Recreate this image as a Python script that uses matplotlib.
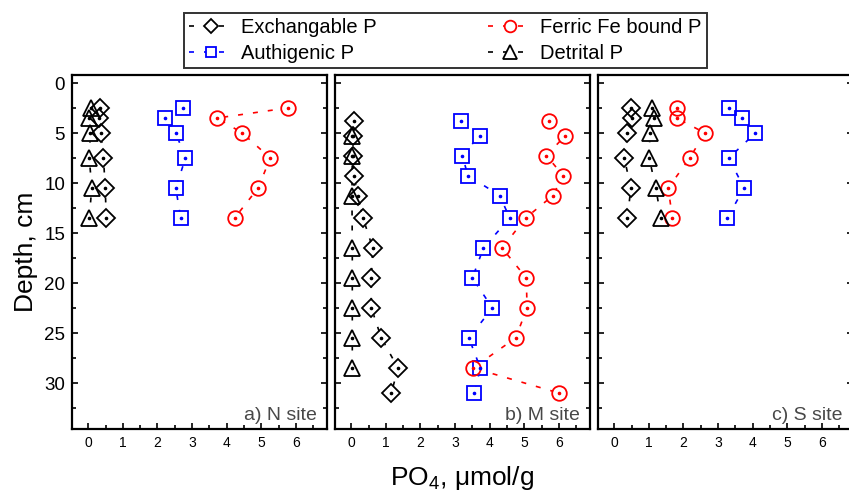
### PHOSPHORUS FRACTIONS VS DEPTH AT THREE SITES
### IMPORT LIBRARIES ###
import numpy as np
import matplotlib
matplotlib.use('Agg')
import matplotlib.pyplot as plt
from matplotlib.lines import Line2D

plt.rcParams['font.family'] = ['Liberation Sans', 'DejaVu Sans']
plt.rcParams['mathtext.fontset'] = 'custom'
plt.rcParams['mathtext.rm'] = 'Liberation Sans'

### DATA ###
# N site
n_depth = [2.5, 3.5, 5, 7.5, 10.5, 13.5]
n_exch = [0.35, 0.30, 0.38, 0.44, 0.49, 0.52]
n_auth = [2.74, 2.21, 2.53, 2.81, 2.53, 2.67]
n_ferric = [5.76, 3.73, 4.45, 5.26, 4.91, 4.23]
n_detr = [0.08, 0.01, 0.06, 0.03, 0.10, 0.03]

# M site
m_depth = [3.75, 5.25, 7.25, 9.25, 11.25, 13.5, 16.5, 19.5, 22.5, 25.5, 28.5, 31]
m_exch = [0.07, 0.05, 0.05, 0.07, 0.19, 0.34, 0.62, 0.58, 0.58, 0.87, 1.35, 1.16]
m_auth = [3.18, 3.71, 3.21, 3.37, 4.29, 4.58, 3.82, 3.50, 4.08, 3.40, 3.73, 3.56]
m_ferric = [5.71, 6.19, 5.64, 6.12, 5.83, 5.04, 4.36, 5.06, 5.08, 4.75, 3.52, 6.00]
m_detr_depth = [5.25, 7.25, 11.25, 16.5, 19.5, 22.5, 25.5, 28.5]
m_detr = [0.03, 0.03, 0.02, 0.03, 0.03, 0.03, 0.03, 0.03]

# S site
s_depth = [2.5, 3.5, 5, 7.5, 10.5, 13.5]
s_exch = [0.48, 0.51, 0.38, 0.29, 0.48, 0.38]
s_auth = [3.31, 3.70, 4.08, 3.31, 3.75, 3.27]
s_ferric = [1.81, 1.80, 2.62, 2.18, 1.56, 1.68]
s_detr = [1.10, 1.15, 1.03, 1.01, 1.20, 1.35]

site_labels = ['a) N site', 'b) M site', 'c) S site']
series_names = ['Exchangable P', 'Authigenic P', 'Ferric Fe bound P', 'Detrital P']
x_ticks = [0, 1, 2, 3, 4, 5, 6]
y_ticks = [0, 5, 10, 15, 20, 25, 30]

# style for each series: colour, marker, size
styles = {
    'Exchangable P': ('black', 'D', 9.5),
    'Authigenic P': ('#0000ff', 's', 9.5),
    'Ferric Fe bound P': ('#ff0000', 'o', 10.5),
    'Detrital P': ('black', '^', 12),
}
dash = (0, (3, 6))


### FUNCTIONS ###
# Draw one series: dashed line, white blob to hide the line under the marker,
# then the open marker and a dot in the middle
def draw_series(ax, x, y, name):
    col, mk, ms = styles[name]
    ax.plot(x, y, linestyle=dash, color=col, lw=1.2, zorder=1)
    ax.plot(x, y, linestyle='none', marker=mk, ms=ms, mfc='white', mec='none', zorder=2)
    ax.plot(x, y, linestyle='none', marker=mk, ms=ms, mfc='none', mec=col, mew=1.3,
            zorder=3)
    ax.plot(x, y, linestyle='none', marker='o', ms=1.6, color=col, zorder=4)


if __name__ == '__main__':

    fig = plt.figure(figsize=(8.49, 4.95), dpi=100)

    W, H = 849.0, 495.0
    lefts = [72, 335, 598]
    top, bottom = 75, 429
    pw = 255

    sites = [
        (n_depth, n_exch, n_auth, n_ferric, n_depth, n_detr),
        (m_depth, m_exch, m_auth, m_ferric, m_detr_depth, m_detr),
        (s_depth, s_exch, s_auth, s_ferric, s_depth, s_detr),
    ]

    axes = []
    for i, (d, ex, au, fe, dd, de) in enumerate(sites):
        ax = fig.add_axes([lefts[i] / W, 1 - bottom / H, pw / W, (bottom - top) / H])
        draw_series(ax, ex, d, 'Exchangable P')
        draw_series(ax, au, d, 'Authigenic P')
        draw_series(ax, fe, d, 'Ferric Fe bound P')
        draw_series(ax, de, dd, 'Detrital P')

        ax.set_xlim(-0.47, 6.9)
        ax.set_ylim(34.6, -0.8)
        ax.set_xticks(x_ticks)
        ax.set_xticks(np.arange(0.5, 7, 1), minor=True)
        ax.set_yticks(y_ticks)
        ax.set_yticks(np.arange(2.5, 34, 5), minor=True)
        ax.tick_params(which='both', direction='in', right=True, width=1.2)
        ax.tick_params(which='major', length=4)
        ax.tick_params(which='minor', length=3)
        ax.tick_params(axis='x', labelsize=10, pad=5)
        ax.tick_params(axis='y', labelsize=13.5, pad=5)
        if i > 0:
            ax.set_yticklabels([])
        for sp in ax.spines.values():
            sp.set_linewidth(1.6)
        ax.text(0.96, 0.025, site_labels[i], transform=ax.transAxes,
                ha='right', va='baseline', fontsize=14, color='#484848')
        axes.append(ax)

    axes[0].set_ylabel('Depth, cm', fontsize=19, labelpad=4)
    fig.text(462 / W, 1 - 478 / H, 'PO$_4$, \u03bcmol/g', fontsize=19,
             ha='center', va='center')

    # Legend
    handles = []
    for name in series_names:
        col, mk, ms = styles[name]
        handles.append(Line2D([], [], linestyle=dash, color=col, lw=1.2, marker=mk,
                              ms=ms * 0.8, mfc='white', mec=col, mew=1.3))
    # two columns: col1 Exchangable, Authigenic; col2 Ferric, Detrital
    leg = fig.legend(handles, series_names, ncol=2, loc='upper left',
                     bbox_to_anchor=(184 / W, 1 - 13 / H), borderaxespad=0,
                     fontsize=14.5, frameon=True, fancybox=False,
                     edgecolor='black', handlelength=2.2, handletextpad=0.4,
                     columnspacing=5.5, borderpad=0.25, labelspacing=0.35,
                     numpoints=1)
    leg.get_frame().set_linewidth(1.4)

    fig.savefig('out.png', dpi=100)
